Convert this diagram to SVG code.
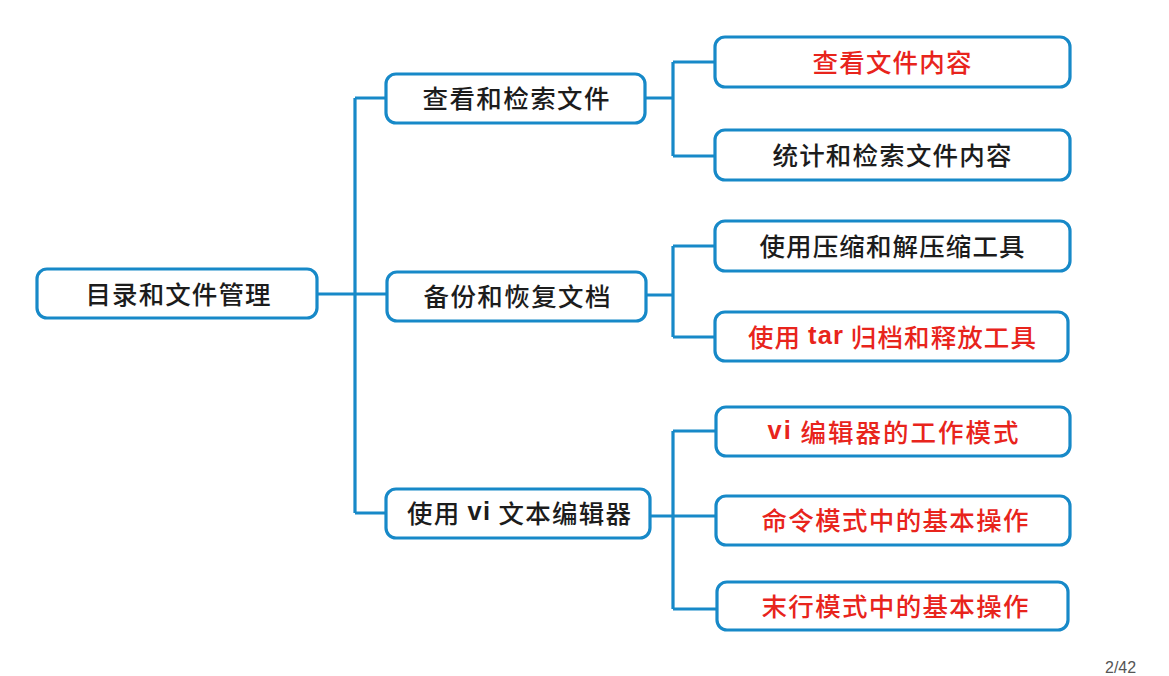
<svg xmlns="http://www.w3.org/2000/svg" width="1169" height="676" viewBox="0 0 1169 676">
<style>
.box{fill:#ffffff;stroke:#1789c8;stroke-width:3.2}
.con{fill:none;stroke:#1789c8;stroke-width:3.2;stroke-linejoin:miter}
.t{font-family:"Noto Sans CJK SC","Noto Sans CJK JP",sans-serif;font-size:25.5px;font-weight:500;dominant-baseline:central;text-anchor:middle}
.k{fill:#1c1c1c}
.r{fill:#e8241c}
.lat{font-family:"Liberation Sans",Arial,sans-serif;font-weight:bold}
.pg{font-family:"Liberation Sans",Arial,sans-serif;font-size:16px;fill:#555}
</style>
<rect width="1169" height="676" fill="#ffffff"/>
<g id="connectors">
<path class="con" d="M318 294 H355 M355 98 V513 M355 98 H386 M355 294 H386 M355 513 H386"/>
<path class="con" d="M645 98 H673 M673 62 V156 M673 62 H715 M673 156 H715"/>
<path class="con" d="M646 295 H673 M673 246 V337 M673 246 H715 M673 337 H715"/>
<path class="con" d="M650 516 H673 M673 431 V609 M673 431 H716 M673 516 H716 M673 609 H717"/>
</g>
<g id="root">
<rect class="box" x="37" y="269" width="280" height="49" rx="10"/>
<text class="t k" x="178" y="292" textLength="185" lengthAdjust="spacing">目录和文件管理</text>
</g>
<g id="mid1">
<rect class="box" x="386" y="74" width="259" height="49" rx="10"/>
<text class="t k" x="516" y="96" textLength="187" lengthAdjust="spacing">查看和检索文件</text>
</g>
<g id="mid2">
<rect class="box" x="387" y="272" width="259" height="49" rx="10"/>
<text class="t k" x="517" y="294" textLength="187" lengthAdjust="spacing">备份和恢复文档</text>
</g>
<g id="mid3">
<rect class="box" x="386" y="489" width="264" height="49" rx="10"/>
<text class="t k" x="519" y="511" textLength="224" lengthAdjust="spacing">使用 <tspan class="lat">vi</tspan> 文本编辑器</text>
</g>
<g id="leaf1">
<rect class="box" x="715" y="37" width="355" height="50" rx="10"/>
<text class="t r" x="892" y="60" textLength="159" lengthAdjust="spacing">查看文件内容</text>
</g>
<g id="leaf2">
<rect class="box" x="715" y="130" width="355" height="50" rx="10"/>
<text class="t k" x="892" y="153" textLength="239" lengthAdjust="spacing">统计和检索文件内容</text>
</g>
<g id="leaf3">
<rect class="box" x="715" y="221" width="355" height="50" rx="10"/>
<text class="t k" x="892" y="244" textLength="265" lengthAdjust="spacing">使用压缩和解压缩工具</text>
</g>
<g id="leaf4">
<rect class="box" x="715" y="312" width="353" height="49" rx="10"/>
<text class="t r" x="892" y="335" textLength="288" lengthAdjust="spacing">使用 <tspan class="lat">tar</tspan> 归档和释放工具</text>
</g>
<g id="leaf5">
<rect class="box" x="716" y="407" width="354" height="49" rx="10"/>
<text class="t r" x="893" y="430" textLength="251" lengthAdjust="spacing"><tspan class="lat">vi</tspan>  编辑器的工作模式</text>
</g>
<g id="leaf6">
<rect class="box" x="716" y="496" width="354" height="49" rx="10"/>
<text class="t r" x="895" y="518" textLength="267" lengthAdjust="spacing">命令模式中的基本操作</text>
</g>
<g id="leaf7">
<rect class="box" x="717" y="582" width="351" height="48" rx="10"/>
<text class="t r" x="895" y="604" textLength="267" lengthAdjust="spacing">末行模式中的基本操作</text>
</g>
<text class="pg" x="1105" y="673">2/42</text>
</svg>
